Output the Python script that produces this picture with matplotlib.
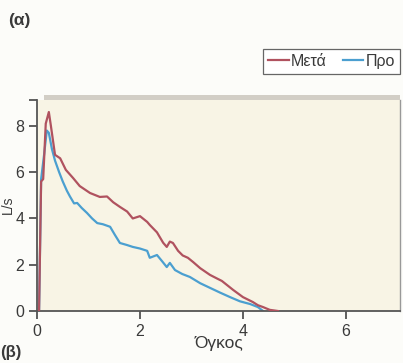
import matplotlib
matplotlib.use("Agg")
import matplotlib.pyplot as plt
from matplotlib.patches import Rectangle

plt.rcParams['font.family'] = ['Liberation Sans', 'DejaVu Sans']

# Data (volume in L, flow in L/s)
meta_volume = [0.04, 0.08, 0.12, 0.17, 0.23, 0.27, 0.35, 0.45, 0.56, 0.70, 0.83, 1.03,
               1.22, 1.36, 1.48, 1.61, 1.75, 1.86, 2.00, 2.14, 2.19, 2.33, 2.45, 2.52,
               2.58, 2.64, 2.74, 2.83, 2.93, 3.03, 3.17, 3.36, 3.50, 3.59, 3.81, 4.00,
               4.19, 4.29, 4.39, 4.52, 4.68]
meta_flow = [0.0, 5.6, 5.7, 8.1, 8.6, 8.0, 6.75, 6.6, 6.1, 5.75, 5.4, 5.1,
             4.93, 4.95, 4.7, 4.5, 4.3, 4.0, 4.1, 3.85, 3.72, 3.4, 2.95, 2.77,
             3.0, 2.94, 2.6, 2.4, 2.3, 2.12, 1.85, 1.56, 1.4, 1.3, 0.91, 0.6,
             0.39, 0.25, 0.17, 0.05, 0.0]

pro_volume = [0.04, 0.08, 0.14, 0.19, 0.23, 0.29, 0.35, 0.43, 0.50, 0.58, 0.64, 0.72,
              0.78, 0.87, 0.97, 1.07, 1.17, 1.28, 1.42, 1.51, 1.61, 1.75, 1.86, 2.00,
              2.14, 2.19, 2.33, 2.43, 2.52, 2.58, 2.68, 2.82, 2.97, 3.17, 3.36, 3.55,
              3.75, 3.94, 4.14, 4.29, 4.39]
pro_flow = [0.0, 5.7, 6.8, 7.8, 7.7, 7.0, 6.5, 6.0, 5.6, 5.2, 4.95, 4.65,
            4.67, 4.45, 4.24, 4.0, 3.8, 3.75, 3.64, 3.3, 2.94, 2.85, 2.77, 2.7,
            2.6, 2.3, 2.42, 2.15, 1.9, 2.08, 1.77, 1.6, 1.47, 1.2, 1.0, 0.8,
            0.6, 0.42, 0.3, 0.17, 0.0]

x_ticks = [0, 2, 4, 6]
y_ticks = [0, 2, 4, 6, 8]
series_labels = ['Μετά', 'Προ']

W, H = 403, 363
fig = plt.figure(figsize=(W / 100, H / 100), dpi=100, facecolor='#fcfcf9')
ax = fig.add_axes([37 / W, 1 - 311 / H, (400 - 37) / W, (311 - 100) / H])
ax.set_facecolor('#f8f4e5')

# gray band above plot
fig.patches.append(Rectangle((44 / W, 1 - 100 / H), (400 - 44) / W, 5 / H,
                             transform=fig.transFigure, facecolor='#d2cec6',
                             edgecolor='none'))

ax.plot(pro_volume, pro_flow, color='#4b9fd0', lw=1.6, label=series_labels[1], zorder=2)
ax.plot(meta_volume, meta_flow, color='#b0525f', lw=1.6, label=series_labels[0], zorder=3)

ax.set_xlim(0, 7.05)
ax.set_ylim(0, 9.12)
ax.set_xticks(x_ticks)
ax.set_yticks(y_ticks)
ax.tick_params(direction='out', length=6, width=1.2, colors='#444444',
               labelsize=11.5, labelcolor='#3a3a3a', pad=3)
ax.set_yticks([9.12], minor=True)
ax.tick_params(which='minor', direction='out', length=6, width=1.2, colors='#444444')

for side in ['left', 'bottom']:
    ax.spines[side].set_color('#555555')
    ax.spines[side].set_linewidth(1.3)
ax.spines['right'].set_color('#999999')
ax.spines['right'].set_linewidth(1.0)
ax.spines['top'].set_visible(False)

ax.set_xlabel('Όγκος', fontsize=12.5, color='#3a3a3a', labelpad=-2)

handles, labels = ax.get_legend_handles_labels()
order = [1, 0]
leg = fig.legend([handles[i] for i in order], [labels[i] for i in order],
                 loc='upper right', bbox_to_anchor=(400 / W, 1 - 49 / H),
                 ncol=2, frameon=True, fancybox=False, edgecolor='#666666',
                 facecolor='white', framealpha=1, fontsize=11.5,
                 handlelength=1.3, handletextpad=0.15, columnspacing=1.0,
                 borderpad=0.3, borderaxespad=0)
leg.get_frame().set_linewidth(0.9)
for t in leg.get_texts():
    t.set_color('#3a3a3a')

fig.text(8 / W, 1 - 21 / H, '(α)', fontsize=12.5, fontweight='bold', color='#3a3a3a',
         va='center', ha='left')
fig.text(0 / W, 1 - 353 / H, '(β)', fontsize=12, fontweight='bold', color='#3a3a3a',
         va='center', ha='left')
fig.text(8 / W, 1 - 205 / H, 'L/s', fontsize=10, color='#3a3a3a', rotation=90,
         va='center', ha='center')

fig.savefig('out.png', dpi=100, facecolor=fig.get_facecolor())
